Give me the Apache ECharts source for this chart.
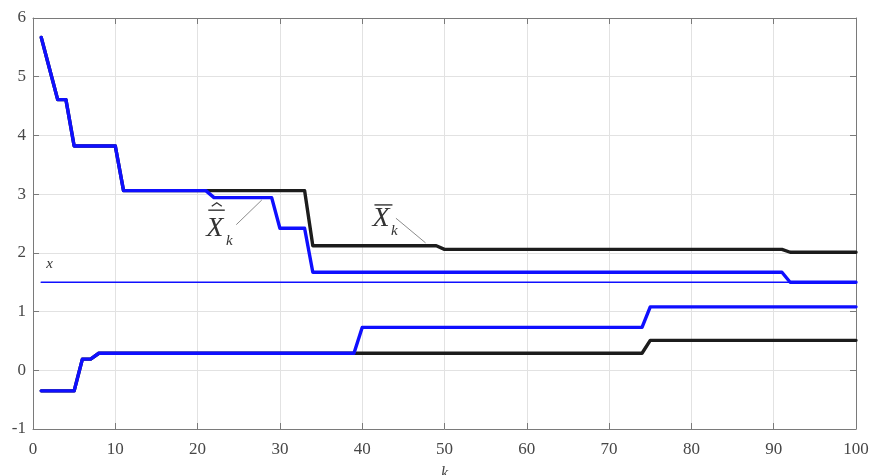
<!DOCTYPE html>
<html>
<head>
<meta charset="utf-8">
<script src="https://cdn.jsdelivr.net/npm/echarts@6/dist/echarts.min.js"></script>
<style>
  html, body { margin: 0; padding: 0; background: #ffffff; }
  #chart { width: 872px; height: 475px; }
</style>
</head>
<body>
<div id="chart"></div>
<script>
// Estimates along k: upper and lower bounds, hat (blue) and bar (black) versions.
const kHatUpper = [1, 2, 3, 4, 5, 10, 11, 21, 22, 29, 30, 33, 34, 91, 92, 100];
const hatUpper  = [5.67, 5.14, 4.61, 4.61, 3.82, 3.82, 3.06, 3.06, 2.94, 2.94, 2.42, 2.42, 1.67, 1.67, 1.50, 1.50];

const kBarUpper = [1, 2, 3, 4, 5, 10, 11, 33, 34, 49, 50, 91, 92, 100];
const barUpper  = [5.67, 5.14, 4.61, 4.61, 3.82, 3.82, 3.06, 3.06, 2.12, 2.12, 2.06, 2.06, 2.01, 2.01];

const kHatLower = [1, 5, 6, 7, 8, 39, 40, 74, 75, 100];
const hatLower  = [-0.35, -0.35, 0.19, 0.19, 0.29, 0.29, 0.73, 0.73, 1.08, 1.08];

const kBarLower = [1, 5, 6, 7, 8, 74, 75, 100];
const barLower  = [-0.35, -0.35, 0.19, 0.19, 0.29, 0.29, 0.51, 0.51];

// True value x
const kTrue = [1, 100];
const trueX = [1.5, 1.5];

// Axis ranges and ticks
const xTicks = { min: 0, max: 100, step: 10 };
const yTicks = { min: -1, max: 6, step: 1 };

// Annotation anchors (data coordinates)
const hatLeader = [[24.7, 2.48], [27.8, 2.90]];
const barLeader = [[44.1, 2.59], [47.7, 2.17]];
const trueLabelAt = [2.0, 1.81];

const SERIF = '"Liberation Serif", "Times New Roman", serif';
const BLUE = '#0f0fff';
const BLACK = '#1c1c1c';
const AXIS = '#7a7a7a';
const GRID = '#e2e2e2';
const TEXT = '#474747';

const pairs = (ks, vs) => ks.map((k, i) => [k, vs[i]]);

const chart = echarts.init(document.getElementById('chart'), null, { renderer: 'canvas' });

function valueAxis(range, extra) {
  return Object.assign({
    type: 'value',
    min: range.min,
    max: range.max,
    interval: range.step,
    axisLine: { show: true, onZero: false, lineStyle: { color: AXIS, width: 1 } },
    axisTick: { show: true, inside: true, length: 6, lineStyle: { color: AXIS } },
    splitLine: { show: false },
    axisLabel: { show: false }
  }, extra);
}

const lineSeries = (name, data, color, width) => ({
  name, type: 'line', data,
  xAxisIndex: 0, yAxisIndex: 0,
  showSymbol: false, symbol: 'none', silent: true,
  lineStyle: { color, width, join: 'round', cap: 'round' },
  itemStyle: { color },
  animation: false
});

chart.setOption({
  animation: false,
  backgroundColor: '#ffffff',
  grid: { left: 33, top: 18, width: 823, height: 411, containLabel: false, outerBoundsMode: 'none' },
  xAxis: [
    valueAxis(xTicks, {
      position: 'bottom',
      name: 'k',
      nameLocation: 'middle',
      nameGap: 37,
      nameTextStyle: { fontFamily: SERIF, fontStyle: 'italic', fontSize: 16, color: TEXT },
      splitLine: { show: true, lineStyle: { color: GRID, width: 1 } },
      axisLabel: { show: true, fontFamily: SERIF, fontSize: 17, color: TEXT, margin: 12 }
    }),
    valueAxis(xTicks, { position: 'top' })
  ],
  yAxis: [
    valueAxis(yTicks, {
      position: 'left',
      splitLine: { show: true, lineStyle: { color: GRID, width: 1 } },
      axisLabel: { show: true, fontFamily: SERIF, fontSize: 17, color: TEXT, margin: 7 }
    }),
    valueAxis(yTicks, { position: 'right' })
  ],
  series: [
    lineSeries('barUpper', pairs(kBarUpper, barUpper), BLACK, 3.4),
    lineSeries('barLower', pairs(kBarLower, barLower), BLACK, 3.4),
    lineSeries('trueX', pairs(kTrue, trueX), BLUE, 1.6),
    lineSeries('hatUpper', pairs(kHatUpper, hatUpper), BLUE, 3.4),
    lineSeries('hatLower', pairs(kHatLower, hatLower), BLUE, 3.4)
  ]
});

// Annotations: leader lines and the X-hat-bar / X-bar labels
function toPx(p) { return chart.convertToPixel({ seriesIndex: 0 }, p); }

function textEl(text, x, y, size, italic) {
  return {
    type: 'text', x, y, silent: true,
    style: {
      text, fill: '#333333',
      font: (italic ? 'italic ' : '') + size + 'px ' + SERIF,
      align: 'center', verticalAlign: 'middle',
      textAlign: 'center', textVerticalAlign: 'middle'
    }
  };
}

function lineEl(x1, y1, x2, y2, color, w) {
  return { type: 'line', silent: true, shape: { x1, y1, x2, y2 }, style: { stroke: color, lineWidth: w } };
}

function buildAnnotations() {
  const hs = toPx(hatLeader[0]), he = toPx(hatLeader[1]);
  const bs = toPx(barLeader[0]), be = toPx(barLeader[1]);
  const tp = toPx(trueLabelAt);

  const hx = hs[0] - 21.5, hy = hs[1] + 3.5;   // X-hat-bar glyph centre
  const bx = bs[0] - 15, by = bs[1] + 0.7;     // X-bar glyph centre

  return [
    lineEl(hs[0], hs[1], he[0], he[1], '#8c8c8c', 1),
    lineEl(bs[0], bs[1], be[0], be[1], '#8c8c8c', 1),

    textEl('X', hx, hy, 28, true),
    lineEl(hx - 6.5, hy - 18, hx + 10, hy - 18, '#333333', 1.4),
    { type: 'polyline', silent: true,
      shape: { points: [[hx - 3, hy - 22], [hx + 2, hy - 25.5], [hx + 7, hy - 22]] },
      style: { stroke: '#333333', lineWidth: 1.3, fill: null } },
    textEl('k', hx + 14.5, hy + 13, 15, true),

    textEl('X', bx, by, 28, true),
    lineEl(bx - 6.5, by - 14, bx + 11.5, by - 14, '#333333', 1.4),
    textEl('k', bx + 13.5, by + 12, 15, true),

    textEl('x', tp[0], tp[1], 15, true)
  ];
}

chart.setOption({ graphic: { elements: buildAnnotations() } });
</script>
</body>
</html>
